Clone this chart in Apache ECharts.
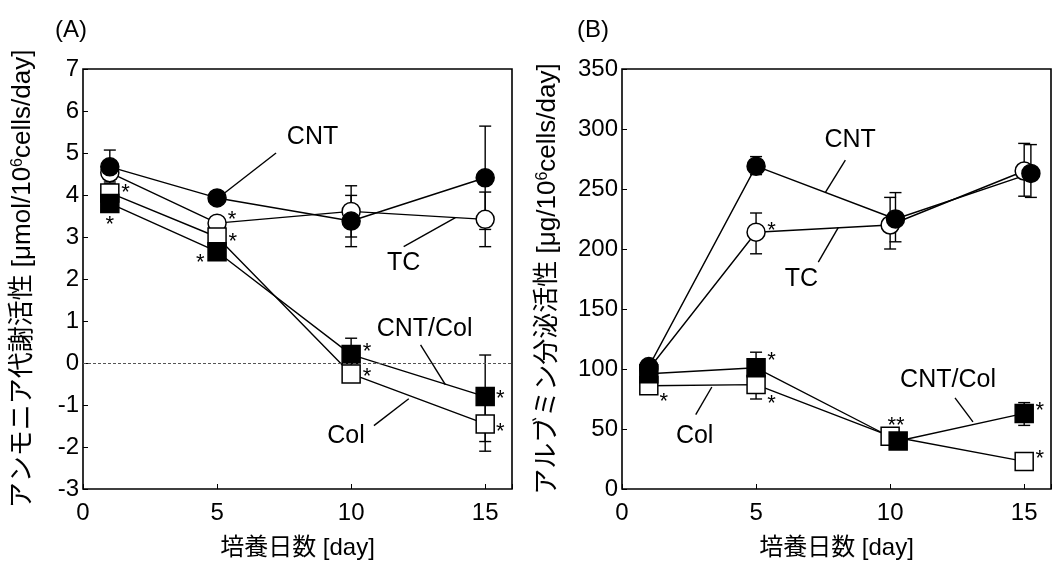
<!DOCTYPE html>
<html>
<head>
<meta charset="utf-8">
<script src="https://cdn.jsdelivr.net/npm/echarts@6/dist/echarts.min.js"></script>
<style>
html, body { margin: 0; padding: 0; background: #fff; }
#chart { width: 1054px; height: 565px; }
</style>
</head>
<body>
<div id="chart"></div>
<script>
// ---- data (A) アンモニア代謝活性 ----
var daysA = [1, 5, 10, 15];
var cntA = [4.67, 3.93, 3.38, 4.41];
var tcA = [4.53, 3.33, 3.61, 3.42];
var colA = [4.05, 3.0, -0.26, -1.45];
var cntColA = [3.8, 2.65, 0.2, -0.8];
// [day, low, high]
var errA = [[1, 4.27, 5.07], [1, 4.31, 4.75], [10, 3.0, 4.22], [10, 2.77, 3.99],
  [15, 3.18, 5.64], [15, 2.77, 4.07], [10, -0.19, 0.59], [15, -1.87, 0.19], [15, -2.1, -0.8]];
var labelsA = [[8.56, 5.38, 'CNT'], [11.96, 2.39, 'TC'], [12.74, 0.81, 'CNT/Col'], [9.81, -1.73, 'Col']];
var leadersA = [[[7.2, 5.0], [5.1, 3.96]], [[11.96, 2.77], [13.89, 3.46]],
  [[12.59, 0.43], [13.52, -0.52]], [[10.85, -1.49], [12.15, -0.85]]];
var starsA = [[1.59, 4.17, '*'], [1.0, 3.41, '*'], [5.56, 3.53, '*'], [5.59, 2.99, '*'], [4.37, 2.51, '*'],
  [10.59, 0.38, '*'], [10.59, -0.21, '*'], [15.56, -0.73, '*'], [15.56, -1.52, '*']];

// ---- data (B) アルブミン分泌活性 ----
var cntDaysB = [1, 5, 10.2, 15.25];
var cntB = [102, 269, 225, 263];
var tcDaysB = [1, 5, 10, 15];
var tcB = [100, 214, 220, 265];
var colDaysB = [1, 5, 10, 15];
var colB = [86, 87, 44, 23];
var cntColDaysB = [1, 5, 10.3, 15];
var cntColB = [96, 101, 40, 63];
var errB = [[5, 262, 277], [5, 196, 230], [10, 200, 243], [10.2, 206, 247], [15, 244, 288],
  [15.25, 243, 287], [5, 88, 114], [5, 75, 99], [15, 53, 72], [15, 17, 29], [10.3, 35, 45]];
var labelsB = [[8.51, 291, 'CNT'], [6.69, 175, 'TC'], [2.71, 44, 'Col'], [12.16, 91, 'CNT/Col']];
var leadersB = [[[8.33, 274], [7.58, 247]], [[7.32, 189], [8.07, 218]],
  [[2.75, 62], [3.35, 85]], [[12.42, 76], [13.09, 56]]];
var starsB = [[5.58, 219, '*'], [5.58, 111, '*'], [1.56, 77, '*'], [5.58, 75, '*'], [10.22, 57, '**'],
  [15.58, 69, '*'], [15.58, 29, '*']];

var font = "'Liberation Sans', 'Noto Sans CJK JP', sans-serif";

function zip(xs, ys) {
  return xs.map(function (x, i) { return [x, ys[i]]; });
}

function errRender(params, api) {
  var x = api.value(0);
  var top = api.coord([x, api.value(2)]);
  var bot = api.coord([x, api.value(1)]);
  var w = 6;
  var st = {stroke: '#000', lineWidth: 1.4};
  return {
    type: 'group',
    children: [
      {type: 'line', shape: {x1: top[0], y1: top[1], x2: bot[0], y2: bot[1]}, style: st},
      {type: 'line', shape: {x1: top[0] - w, y1: top[1], x2: top[0] + w, y2: top[1]}, style: st},
      {type: 'line', shape: {x1: bot[0] - w, y1: bot[1], x2: bot[0] + w, y2: bot[1]}, style: st}
    ]
  };
}

function lineSeries(idx, data) {
  return {
    type: 'line', xAxisIndex: idx, yAxisIndex: idx, data: data,
    symbol: 'none', z: 2, silent: true,
    lineStyle: {color: '#000', width: 1.4}
  };
}

function markerSeries(idx, data, symbol, filled) {
  return {
    type: 'scatter', xAxisIndex: idx, yAxisIndex: idx, data: data,
    symbol: symbol, symbolSize: 18, z: 4,
    itemStyle: {color: filled ? '#000' : '#fff', borderColor: '#000', borderWidth: 1.5, opacity: 1}
  };
}

function textSeries(idx, data, size, offset) {
  return {
    type: 'scatter', xAxisIndex: idx, yAxisIndex: idx, data: data,
    symbolSize: 1, z: 5, silent: true,
    itemStyle: {color: 'transparent'},
    label: {
      show: true, position: 'inside', offset: offset,
      formatter: function (p) { return p.data[2]; },
      color: '#000', fontSize: size, fontFamily: font,
      textBorderWidth: 0, opacity: 1
    }
  };
}

function panelSeries(idx, lines, markers, errs, labels, leaders, stars) {
  var s = [];
  s.push({
    type: 'custom', xAxisIndex: idx, yAxisIndex: idx, data: errs,
    renderItem: errRender, encode: {x: 0, y: [1, 2]}, z: 1, silent: true
  });
  lines.forEach(function (d) { s.push(lineSeries(idx, d)); });
  leaders.forEach(function (d) { s.push(lineSeries(idx, d)); });
  markers.forEach(function (m) { s.push(markerSeries(idx, m[0], m[1], m[2])); });
  s.push(textSeries(idx, labels, 25, [0, 0]));
  s.push(textSeries(idx, stars, 22, [0, 5]));
  return s;
}

function xAxis(idx) {
  return {
    type: 'value', gridIndex: idx, min: 0, max: 16, interval: 5,
    name: '培養日数 [day]', nameLocation: 'middle', nameGap: 47,
    nameTextStyle: {color: '#000', fontSize: 24, fontFamily: font},
    axisLine: {show: false, onZero: false},
    axisTick: {show: true, inside: true, length: 5, lineStyle: {color: '#000'}},
    axisLabel: {
      color: '#000', fontSize: 24, fontFamily: font, margin: 12,
      formatter: function (v) { return v % 5 === 0 ? v : ''; }
    },
    splitLine: {show: false}
  };
}

function yAxis(idx, min, max, interval, pre, gap) {
  return {
    type: 'value', gridIndex: idx, min: min, max: max, interval: interval,
    name: '{a|' + pre + '10}{s|6}{a|cells/day]}',
    nameLocation: 'middle', nameGap: gap, nameRotate: 90,
    nameTextStyle: {
      rich: {
        a: {fontSize: 26, fontFamily: font, color: '#000'},
        s: {fontSize: 16, fontFamily: font, color: '#000', verticalAlign: 'top', padding: [0, 0, 10, 0]}
      }
    },
    axisLine: {show: false, onZero: false},
    axisTick: {show: true, inside: true, length: 5, lineStyle: {color: '#000'}},
    axisLabel: {color: '#000', fontSize: 24, fontFamily: font, margin: 4},
    splitLine: {show: false}
  };
}

var seriesA = panelSeries(0,
  [zip(daysA, cntA), zip(daysA, tcA), zip(daysA, colA), zip(daysA, cntColA)],
  [[zip(daysA, tcA), 'circle', false], [zip(daysA, cntA), 'circle', true],
   [zip(daysA, colA), 'rect', false], [zip(daysA, cntColA), 'rect', true]],
  errA, labelsA, leadersA, starsA);
// dashed zero line
seriesA[1].markLine = {
  silent: true, symbol: 'none', label: {show: false},
  lineStyle: {color: '#555', type: [3, 2], width: 1},
  data: [{yAxis: 0}]
};

var seriesB = panelSeries(1,
  [zip(cntDaysB, cntB), zip(tcDaysB, tcB), zip(colDaysB, colB), zip(cntColDaysB, cntColB)],
  [[zip(tcDaysB, tcB), 'circle', false], [zip(colDaysB, colB), 'rect', false],
   [zip(cntColDaysB, cntColB), 'rect', true], [zip(cntDaysB, cntB), 'circle', true]],
  errB, labelsB, leadersB, starsB);

var chart = echarts.init(document.getElementById('chart'));
var option = {
  backgroundColor: '#fff',
  animation: false,
  title: [
    {text: '(A)', left: 50, top: 13, textStyle: {fontSize: 24, fontWeight: 'normal', color: '#000', fontFamily: font}},
    {text: '(B)', left: 572, top: 13, textStyle: {fontSize: 24, fontWeight: 'normal', color: '#000', fontFamily: font}}
  ],
  grid: [
    {left: 83, top: 69, width: 429, height: 422, show: true, borderColor: '#000', borderWidth: 1.6, backgroundColor: 'transparent'},
    {left: 622, top: 69, width: 430, height: 421, show: true, borderColor: '#000', borderWidth: 1.6, backgroundColor: 'transparent'}
  ],
  xAxis: [xAxis(0), xAxis(1)],
  yAxis: [
    yAxis(0, -3, 7, 1, 'アンモニア代謝活性 [μmol/', 47),
    yAxis(1, 0, 350, 50, 'アルブミン分泌活性 [μg/', 61)
  ],
  series: seriesA.concat(seriesB)
};
chart.setOption(option);
</script>
</body>
</html>
